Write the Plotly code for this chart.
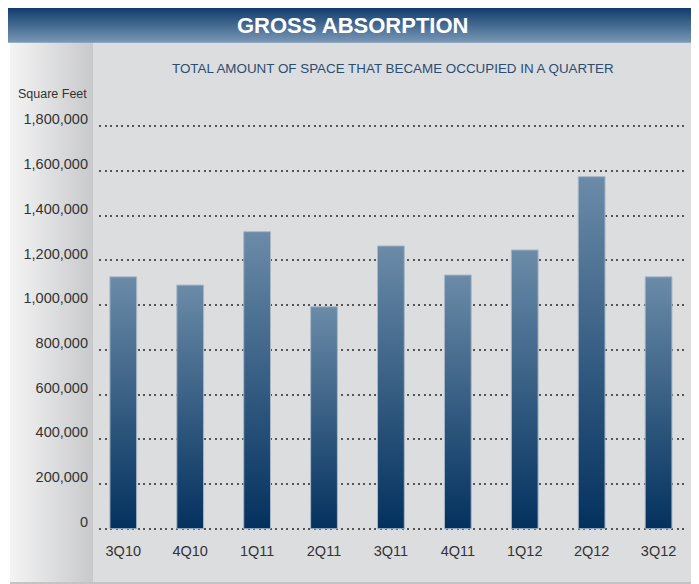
import plotly.graph_objects as go

quarters = ["3Q10", "4Q10", "1Q11", "2Q11", "3Q11", "4Q11", "1Q12", "2Q12", "3Q12"]
absorption = [1127000, 1090000, 1329000, 993000, 1265000, 1135000, 1247000, 1575000, 1127000]
y_ticks = [0, 200000, 400000, 600000, 800000, 1000000, 1200000, 1400000, 1600000, 1800000]
y_tick_labels = ["0", "200,000", "400,000", "600,000", "800,000", "1,000,000",
                 "1,200,000", "1,400,000", "1,600,000", "1,800,000"]

title_text = "GROSS ABSORPTION"
subtitle_text = "TOTAL AMOUNT OF SPACE THAT BECAME OCCUPIED IN A QUARTER"
unit_text = "Square Feet"

W, H = 699, 584
OFF = 8  # page body margin: figure pixel = screen pixel - OFF
FONT = "Liberation Sans, Arial, sans-serif"

fig = go.Figure()

# ---- decorations on a screen-pixel subplot (x/y) ----
fig.add_trace(go.Scatter(
    x=[10, 93, 93, 10, 10], y=[42, 42, 582, 582, 42], mode="none", fill="toself",
    fillgradient=dict(type="horizontal", colorscale=[[0, "#f4f4f4"], [1, "#c8c9cb"]]),
    hoverinfo="skip", showlegend=False, xaxis="x", yaxis="y"))
fig.add_trace(go.Scatter(
    x=[8, 692, 692, 8, 8], y=[6, 6, 42.7, 42.7, 6], mode="none", fill="toself",
    fillgradient=dict(type="vertical", colorscale=[[0, "#7a98b7"], [1, "#0a3767"]]),
    hoverinfo="skip", showlegend=False, xaxis="x", yaxis="y"))

# ---- bars on the chart subplot (x2/y2) ----
half = 0.2
for i, (q, v) in enumerate(zip(quarters, absorption)):
    fig.add_trace(go.Scatter(
        x=[i - half, i - half, i + half, i + half, i - half],
        y=[0, v, v, 0, 0],
        mode="lines", fill="toself",
        line=dict(color="#a8b7c7", width=1),
        fillgradient=dict(type="vertical", colorscale=[[0, "#03315e"], [1, "#6b8ba8"]]),
        hoverinfo="skip", showlegend=False, name=q, xaxis="x2", yaxis="y2"))

shapes = [
    dict(type="rect", xref="x", yref="y", x0=10, x1=692, y0=42, y1=582,
         fillcolor="#dcdddf", line=dict(width=0), layer="below"),
    dict(type="rect", xref="x", yref="y", x0=692, x1=697, y0=42, y1=584,
         fillcolor="#bdbdbd", line=dict(width=0), layer="below"),
    dict(type="rect", xref="x", yref="y", x0=692, x1=697, y0=6, y1=42,
         fillcolor="#ececec", line=dict(width=0), layer="below"),
    dict(type="rect", xref="x", yref="y", x0=10, x1=692, y0=582, y1=584,
         fillcolor="#c4c4c4", line=dict(width=0), layer="below"),
]

annotations = [
    dict(text="<b>" + title_text + "</b>", x=352, y=25, xref="x", yref="y", showarrow=False,
         font=dict(family=FONT, size=22, color="white"), xanchor="center", yanchor="middle"),
    dict(text=subtitle_text, x=392.5, y=68, xref="x", yref="y", showarrow=False,
         font=dict(family=FONT, size=13.4, color="#2b4d72"),
         xanchor="center", yanchor="middle"),
    dict(text=unit_text, x=88.5, y=94, xref="x", yref="y", showarrow=False,
         font=dict(family=FONT, size=12.5, color="#333333"), xanchor="right", yanchor="middle"),
]

y_bot_px, y_top_px = 533.2, 121.9
x_left_px, x_right_px = 99, 688
fig.update_layout(
    width=W, height=H, margin=dict(l=0, r=0, t=0, b=0),
    paper_bgcolor="white", plot_bgcolor="rgba(0,0,0,0)",
    shapes=shapes, annotations=annotations, showlegend=False,
    xaxis=dict(domain=[0, 1], range=[OFF, W + OFF], visible=False, fixedrange=True,
               automargin=False),
    yaxis=dict(domain=[0, 1], range=[H + OFF, OFF], visible=False, fixedrange=True,
               automargin=False),
    xaxis2=dict(domain=[(x_left_px - OFF) / W, (x_right_px - OFF) / W], anchor="y2",
                range=[-0.363, 8.44],
                tickvals=list(range(len(quarters))), ticktext=quarters,
                showgrid=False, zeroline=False, showline=False, ticks="",
                tickfont=dict(family=FONT, size=14.5, color="#333333"),
                ticklabelstandoff=7, fixedrange=True, automargin=False),
    yaxis2=dict(domain=[1 - (y_bot_px - OFF) / H, 1 - (y_top_px - OFF) / H], anchor="x2",
                range=[-20000, 1820000], tickvals=y_ticks, ticktext=y_tick_labels,
                showgrid=True, gridcolor="#555555", griddash="2.2px,3.3px", gridwidth=2.2,
                zeroline=False, showline=False, ticks="",
                tickfont=dict(family=FONT, size=14.5, color="#333333"),
                ticklabelstandoff=10, ticklabelshift=-7, fixedrange=True, automargin=False),
)

fig.write_html("out.html")
